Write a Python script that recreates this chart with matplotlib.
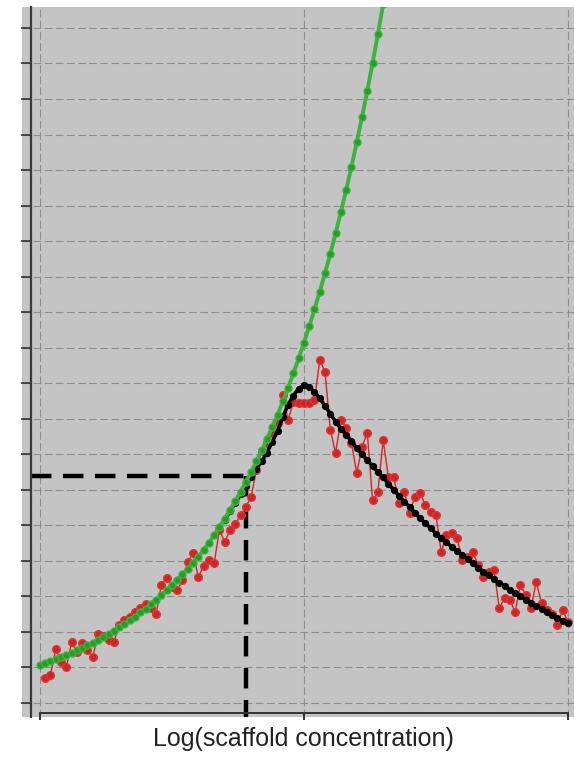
import numpy as np
import matplotlib
matplotlib.use("Agg")
import matplotlib.pyplot as plt

# log(scaffold concentration) grids
x_green = np.round(np.arange(0, 1.31, 0.02), 2)
x_black = np.round(np.arange(0.70, 2.001, 0.02), 2)
x_red = np.round(np.arange(0.02, 2.001, 0.02), 2)

# binary-complex curve (green)
y_green = [2.07, 2.12, 2.17, 2.23, 2.29, 2.35, 2.41, 2.48, 2.55, 2.62,
           2.70, 2.77, 2.86, 2.94, 3.03, 3.13, 3.22, 3.33, 3.43, 3.55,
           3.66, 3.78, 3.91, 4.04, 4.18, 4.32, 4.47, 4.62, 4.78, 4.95,
           5.12, 5.31, 5.51, 5.72, 5.95, 6.19, 6.44, 6.69, 6.95, 7.22,
           7.51, 7.80, 8.11, 8.43, 8.77, 9.12, 9.49, 9.88, 10.28, 10.70,
           11.14, 11.60, 12.08, 12.58, 13.10, 13.65, 14.22, 14.82, 15.44, 16.09,
           16.78, 17.49, 18.23, 19.01, 19.82, 20.67]

# ternary-complex curve (black)
y_black = [6.15, 6.40, 6.63, 6.87, 7.10, 7.35, 7.60, 7.80, 8.05, 8.35,
           8.65, 9.05, 9.40, 9.65, 9.85, 9.95, 9.90, 9.75, 9.58, 9.36,
           9.14, 8.92, 8.72, 8.55, 8.37, 8.17, 8.00, 7.84, 7.67, 7.50,
           7.35, 7.17, 7.00, 6.83, 6.67, 6.52, 6.36, 6.20, 6.06, 5.92,
           5.77, 5.64, 5.52, 5.40, 5.28, 5.17, 5.05, 4.93, 4.81, 4.70,
           4.59, 4.48, 4.39, 4.29, 4.19, 4.10, 4.00, 3.91, 3.82, 3.73,
           3.65, 3.56, 3.48, 3.40, 3.32, 3.24]

# noisy measurements (red)
y_red = [1.70, 1.79, 2.52, 2.15, 2.01, 2.72, 2.44, 2.69, 2.49, 2.29,
         2.94, 2.89, 2.77, 2.72, 3.20, 3.34, 3.42, 3.56, 3.67, 3.79,
         3.67, 3.50, 4.32, 4.52, 4.26, 4.18, 4.46, 4.97, 5.22, 4.55,
         4.86, 5.02, 4.94, 5.87, 5.53, 5.87, 6.04, 6.29, 6.52, 6.80,
         7.56, 8.09, 8.32, 8.60, 8.88, 9.67, 8.97, 9.47, 9.44, 9.44,
         9.44, 9.53, 10.65, 10.32, 8.68, 8.04, 8.97, 8.74, 8.32, 7.47,
         8.21, 8.60, 6.71, 6.94, 8.40, 7.36, 7.36, 6.63, 6.94, 6.35,
         6.80, 6.91, 6.57, 6.38, 6.29, 5.25, 5.73, 5.78, 5.64, 5.02,
         5.11, 5.25, 4.88, 4.55, 4.69, 4.74, 3.67, 3.96, 3.90, 3.56,
         4.32, 4.04, 3.67, 4.41, 3.81, 3.62, 3.50, 3.20, 3.62, 3.28]

# threshold guide
x_thr = 0.78
y_thr = 7.39

fig = plt.figure(figsize=(5.74, 7.57), dpi=100)
ax = fig.add_axes([0.0383, 0.0528, 0.9617, 0.938])
ax.set_facecolor('#c4c4c4')
ax.set_xlim(-0.068, 2.023)
ax.set_ylim(0.606, 20.59)

ax.set_xticks([0, 1, 2])
ax.set_yticks(np.arange(1, 21))
ax.set_xticklabels([])
ax.set_yticklabels([])
ax.grid(True, color='#8e8e8e', linestyle=(0, (7, 3)), linewidth=0.8)
ax.set_axisbelow(True)

for s in ['top', 'right']:
    ax.spines[s].set_visible(False)
ax.spines['left'].set_position(('data', -0.034))
ax.spines['left'].set_color('#3a3a3a')
ax.spines['left'].set_linewidth(1.6)
ax.spines['bottom'].set_position(('data', 0.72))
ax.spines['bottom'].set_bounds(0, 2)
ax.spines['bottom'].set_color('#333333')
ax.spines['bottom'].set_linewidth(1.4)
ax.tick_params(axis='y', direction='out', length=7, width=1.2, color='#333333')
ax.tick_params(axis='x', direction='out', length=5, width=1.4, color='#333333')

# dashed guide lines
ax.plot([-0.034, x_thr], [y_thr, y_thr], color='black', lw=3.2,
        linestyle=(0, (4.6, 2.6)), solid_capstyle='butt', zorder=2)
ax.plot([x_thr, x_thr], [y_thr, 0.606], color='black', lw=3.2,
        linestyle=(0, (4.6, 2.6)), solid_capstyle='butt', zorder=2)

ax.plot(x_red, y_red, color='#d42424', lw=1.0, marker='o', ms=5.5,
        mfc='#cc2626', mec='#e03434', zorder=3)
ax.plot(x_black, y_black, color='black', lw=2.6, marker='o', ms=4.2,
        mfc='black', mec='black', zorder=4)
ax.plot(x_green, y_green, color='#3cb43c', lw=2.8, marker='o', ms=5.0,
        mfc='#2a9a2a', mec='#3cb43c', zorder=5)

fig.text(0.528, 0.024, 'Log(scaffold concentration)', ha='center', va='center',
         fontsize=18, family='Liberation Sans', color='#222222')

fig.savefig('out.png', dpi=100)
